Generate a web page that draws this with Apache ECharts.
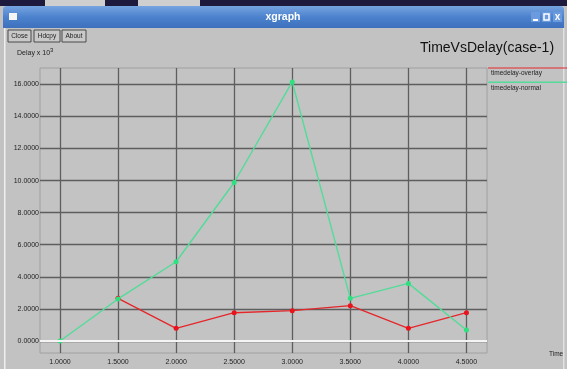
<!DOCTYPE html>
<html><head><meta charset="utf-8">
<script src="https://cdn.jsdelivr.net/npm/echarts@6/dist/echarts.min.js"></script>
<style>html,body{margin:0;padding:0;background:#c2c2c2}#c{width:567px;height:369px}</style>
</head><body><div id="c"></div>
<script>
// Time (x) and delay in units of 10^-3 (y)
const times = [1.0, 1.5, 2.0, 2.5, 3.0, 3.5, 4.0, 4.5];
const delayNormal = [0.00, 2.62, 4.94, 9.88, 16.15, 2.66, 3.59, 0.68];
const delayOverlay = [null, 2.66, 0.79, 1.76, 1.89, 2.20, 0.79, 1.76];
const xTicks = [1.0, 1.5, 2.0, 2.5, 3.0, 3.5, 4.0, 4.5];
const yTicks = [0, 2, 4, 6, 8, 10, 12, 14, 16];
const seriesNames = ['timedelay-overlay', 'timedelay-normal'];

const pairs = ys => times.map((t, i) => [t, ys[i]]).filter(p => p[1] !== null);
const fmt = v => Number(v).toFixed(4);
const small = { fontFamily: 'Liberation Sans', fontSize: 7, color: '#222' };

function button(x, w, label) {
  return [
    { type: 'rect', shape: { x: x, y: 30, width: w, height: 12 },
      style: { fill: '#c9c9c9', stroke: '#4a4a4a', lineWidth: 1 } },
    { type: 'text', x: x + w / 2, y: 36,
      style: { text: label, fill: '#222', font: '6.5px "Liberation Sans"', align: 'center', verticalAlign: 'middle' } }
  ];
}

const chart = echarts.init(document.getElementById('c'), null, { renderer: 'canvas' });
chart.setOption({
  animation: false,
  backgroundColor: '#c2c2c2',
  title: {
    text: 'TimeVsDelay(case-1)', left: 415, top: 36,
    textStyle: { fontFamily: 'Liberation Sans', fontSize: 14, fontWeight: 'normal', color: '#111' }
  },
  grid: {
    left: 40, top: 68, width: 447, height: 285,
    show: true, backgroundColor: '#c3c3c3', borderColor: '#a0a0a0', borderWidth: 1
  },
  xAxis: {
    type: 'value', min: 0.828, max: 4.677,
    axisLine: { show: false }, axisTick: { show: false, customValues: xTicks },
    axisLabel: { customValues: xTicks, formatter: fmt, margin: 6, ...small },
    splitLine: { show: true, customValues: xTicks, lineStyle: { color: '#5e5e5e', width: 1.3 } }
  },
  yAxis: {
    type: 'value', min: -0.75, max: 17.02,
    axisLine: { show: false }, axisTick: { show: false, customValues: yTicks },
    axisLabel: { customValues: yTicks, formatter: fmt, margin: 1, ...small },
    splitLine: { show: true, customValues: yTicks, lineStyle: { color: '#5e5e5e', width: 1.3 } }
  },
  series: [
    {
      name: seriesNames[0], type: 'line', data: pairs(delayOverlay),
      symbol: 'circle', symbolSize: 5,
      lineStyle: { color: '#e5262a', width: 1.3 }, itemStyle: { color: '#e8141c' },
      markLine: {
        silent: true, symbol: 'none', label: { show: false },
        lineStyle: { color: '#f4f4f4', width: 2, type: 'solid' },
        data: [{ yAxis: 0 }]
      },
      z: 3
    },
    {
      name: seriesNames[1], type: 'line', data: pairs(delayNormal),
      symbol: 'circle', symbolSize: 5,
      lineStyle: { color: '#52dc98', width: 1.4 }, itemStyle: { color: '#2fe07f' },
      z: 4
    }
  ],
  graphic: [
    // desktop strip above the window
    { type: 'rect', shape: { x: 0, y: 0, width: 567, height: 6 }, style: { fill: '#1d1a3e' } },
    { type: 'rect', shape: { x: 45, y: 0, width: 60, height: 6 }, style: { fill: '#cfcfcf' } },
    { type: 'rect', shape: { x: 138, y: 0, width: 62, height: 6 }, style: { fill: '#cfcfcf' } },
    // window title bar
    { type: 'rect', shape: { x: 3, y: 6, width: 561, height: 22, r: [4, 4, 0, 0] },
      style: { fill: new echarts.graphic.LinearGradient(0, 0, 0, 1, [
        { offset: 0, color: '#76a4e0' }, { offset: 0.5, color: '#4c82cd' }, { offset: 1, color: '#3d70bd' }]) } },
    { type: 'rect', shape: { x: 9, y: 13, width: 8, height: 7 }, style: { fill: '#f4f4f4' } },
    { type: 'text', x: 283, y: 17,
      style: { text: 'xgraph', fill: '#ffffff', font: 'bold 10.5px "Liberation Sans"', align: 'center', verticalAlign: 'middle' } },
    { type: 'rect', shape: { x: 531, y: 12, width: 9, height: 10 }, style: { fill: '#6b9ade' } },
    { type: 'rect', shape: { x: 542, y: 12, width: 9, height: 10 }, style: { fill: '#6b9ade' } },
    { type: 'rect', shape: { x: 553, y: 12, width: 9, height: 10 }, style: { fill: '#6b9ade' } },
    { type: 'rect', shape: { x: 533, y: 19, width: 5, height: 2 }, style: { fill: '#ffffff' } },
    { type: 'rect', shape: { x: 544, y: 14, width: 5, height: 6 }, style: { fill: 'none', stroke: '#ffffff', lineWidth: 1.5 } },
    { type: 'text', x: 557.5, y: 17,
      style: { text: 'x', fill: '#ffffff', font: 'bold 10px "Liberation Sans"', align: 'center', verticalAlign: 'middle' } },
    // window side borders
    { type: 'rect', shape: { x: 4, y: 28, width: 1.5, height: 341 }, style: { fill: '#eeeeee' } },
    { type: 'rect', shape: { x: 563, y: 28, width: 1.5, height: 341 }, style: { fill: '#e2e2e2' } },
    // control buttons
    ...button(8, 23, 'Close'),
    ...button(34, 26, 'Hdcpy'),
    ...button(62, 24, 'About'),
    // axis captions
    { type: 'text', x: 17, y: 53,
      style: { text: 'Delay x 10{s|3}', rich: { s: { fontSize: 6, padding: [0, 0, 5, 0], fill: '#222' } },
        fill: '#222', font: '7px "Liberation Sans"', verticalAlign: 'middle' } },
    { type: 'text', x: 549, y: 354,
      style: { text: 'Time', fill: '#222', font: '6.5px "Liberation Sans"', verticalAlign: 'middle' } },
    // legend
    { type: 'rect', shape: { x: 488, y: 67.5, width: 79, height: 1 }, style: { fill: '#e5262a' } },
    { type: 'text', x: 491, y: 73.5,
      style: { text: seriesNames[0], fill: '#222', font: '6.5px "Liberation Sans"', verticalAlign: 'middle' } },
    { type: 'rect', shape: { x: 488, y: 81.5, width: 79, height: 1.5 }, style: { fill: '#52dc98' } },
    { type: 'text', x: 491, y: 88,
      style: { text: seriesNames[1], fill: '#222', font: '6.5px "Liberation Sans"', verticalAlign: 'middle' } }
  ]
});
</script>
</body></html>
